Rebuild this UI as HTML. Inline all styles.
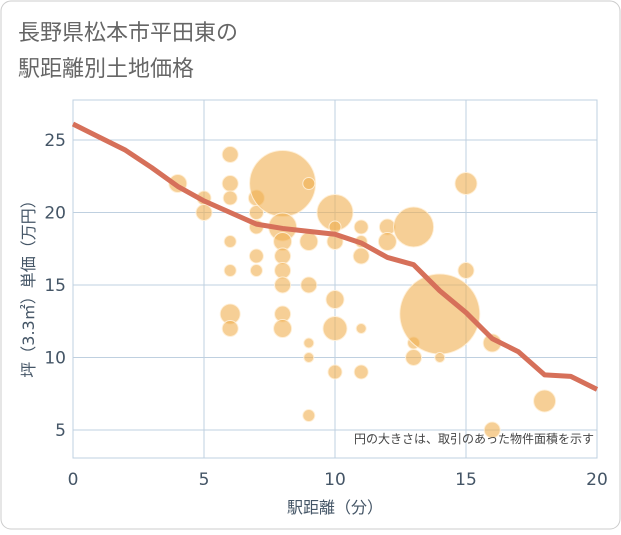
<!DOCTYPE html>
<html><head><meta charset="utf-8"><style>
body{margin:0;background:#fff;}
#wrap{position:relative;width:621px;height:530px;}
svg text{font-family:"DejaVu Sans","Noto Sans CJK JP",sans-serif;}
</style></head><body>
<div id="wrap">
<svg id="c" width="621" height="530" xmlns="http://www.w3.org/2000/svg">
<rect x="1" y="1" width="619" height="528" rx="10" fill="#fff" stroke="#ccc"/>
<text x="18" y="40" font-size="22" fill="#666">長野県松本市平田東の</text>
<text x="18" y="76" font-size="22" fill="#666">駅距離別土地価格</text>
<g id="grid"></g><g id="bubbles"></g><g id="line"></g><g id="axes"></g>
<text x="594" y="443" font-size="12" fill="#444" text-anchor="end">円の大きさは、取引のあった物件面積を示す</text>
<text x="335" y="513" font-size="16" fill="#445566" text-anchor="middle">駅距離（分）</text>
<text transform="translate(34,285) rotate(-90)" font-size="16" fill="#445566" text-anchor="middle">坪（3.3㎡）単価（万円）</text>
</svg></div>
<script>
const xTicks=[0,5,10,15,20];
const yTicks=[5,10,15,20,25];
const bx=[4,5,5,6,6,6,6,6,6,6,7,7,7,7,7,8,8,8,8,8,8,8,8,9,9,9,9,9,9,10,10,10,10,10,10,11,11,11,11,11,12,12,13,13,13,14,14,15,15,16,16,18];
const by=[22,21,20,24,22,21,18,16,13,12,21,20,19,17,16,22,19,18,17,16,15,13,12,22,18,15,11,10,6,20,19,18,14,12,9,19,18,17,12,9,19,18,19,11,10,13,10,22,16,11,5,7];
const bs=[9,7,8,8,8,7,6,6,10,8,8,7,7,7,6,33,14,9,8,8,8,8,9,6,9,8,5,5,6,18,6,8,9,12,7,7,6,8,5,7,8,9,20,6,8,40,5,11,8,9,8,11];
const lx=[0,1,2,3,4,5,6,7,8,9,10,11,12,13,14,15,16,17,18,19,20];
const ly=[26.1,25.2,24.3,23.1,21.8,20.8,20.0,19.2,18.9,18.7,18.5,17.9,16.9,16.4,14.6,13.1,11.3,10.4,8.8,8.7,7.8];
const X=v=>73+v*26.2, Y=v=>502.5-v*14.5;
const NS="http://www.w3.org/2000/svg";
function mk(t,a,p){const e=document.createElementNS(NS,t);for(const k in a)e.setAttribute(k,a[k]);p.appendChild(e);return e;}
const g=document.getElementById('grid'),ax=document.getElementById('axes');
mk('rect',{x:73,y:100,width:524,height:358,fill:'none',stroke:'#bfd0e0'},g);
xTicks.forEach(v=>{const l=mk('line',{x1:X(v),x2:X(v),y1:100,y2:458,stroke:'#bfd0e0'},g);


const t=mk('text',{x:X(v),y:485,'font-size':17,fill:'#445566','text-anchor':'middle'},ax);t.textContent=v;

});
yTicks.forEach(v=>{const l=mk('line',{x1:73,x2:597,y1:Y(v),y2:Y(v),stroke:'#bfd0e0'},g);


const t=mk('text',{x:66,y:Y(v)+6,'font-size':17,fill:'#445566','text-anchor':'end'},ax);t.textContent=v;

});
const b=document.getElementById('bubbles');
bx.forEach((v,i)=>{const c=mk('circle',{cx:X(v),cy:Y(by[i]),r:bs[i],fill:'rgba(240,175,80,0.6)',stroke:'rgba(255,240,215,0.9)','stroke-width':1},b);

});
const p=mk('polyline',{points:lx.map((v,i)=>X(v)+','+Y(ly[i])).join(' '),fill:'none',stroke:'#d6705a','stroke-width':5,'stroke-linejoin':'round'},document.getElementById('line'));


</script></body></html>
